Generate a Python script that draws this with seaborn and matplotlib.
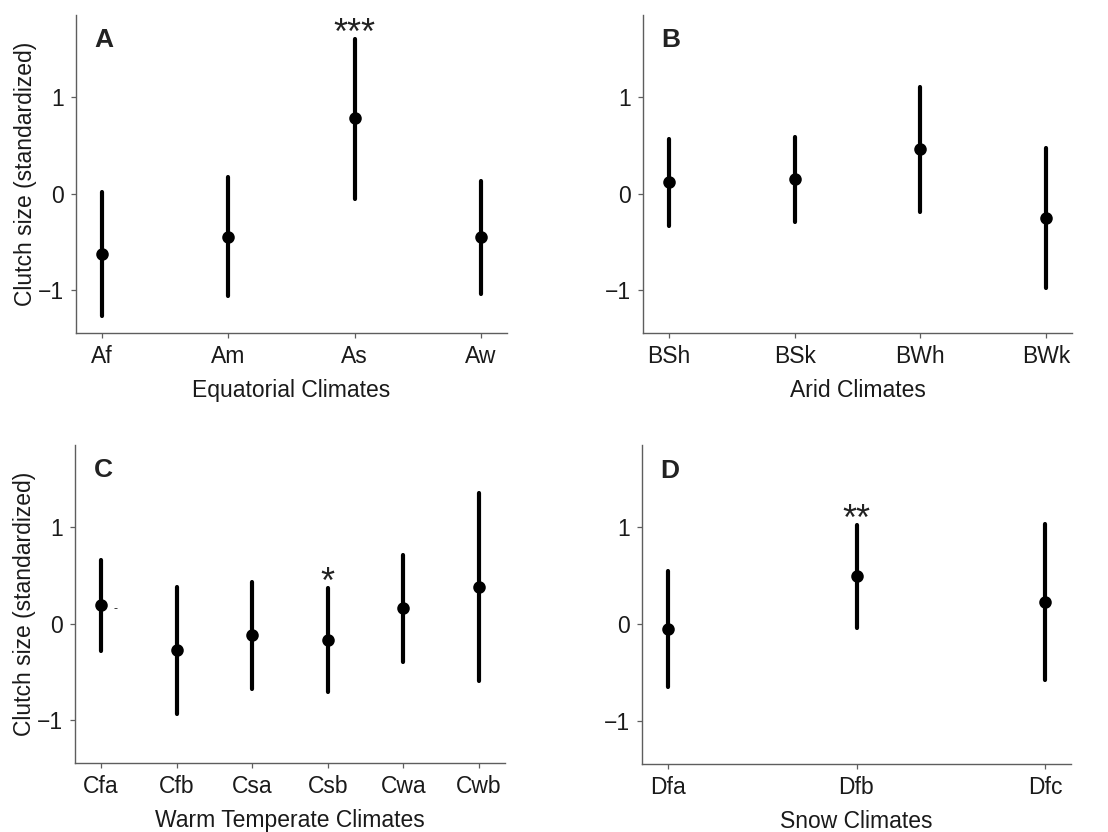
"""
Clutch size by Koppen climate zone.

Four point-range panels (estimate with 95% interval),
one panel per main climate group.
"""

import numpy as np
import pandas as pd
import seaborn as sns
import matplotlib.pyplot as plt


# ============================================================
# DATA (estimate, lower, upper)
# ============================================================

eq_labels = ["Af", "Am", "As", "Aw"]
eq_est = [-0.62, -0.45, 0.78, -0.45]
eq_low = [-1.26, -1.06, -0.05, -1.04]
eq_high = [0.02, 0.17, 1.60, 0.13]
eq_sig = ["", "", "***", ""]

arid_labels = ["BSh", "BSk", "BWh", "BWk"]
arid_est = [0.12, 0.15, 0.46, -0.25]
arid_low = [-0.33, -0.29, -0.19, -0.97]
arid_high = [0.57, 0.59, 1.11, 0.47]
arid_sig = ["", "", "", ""]

temp_labels = ["Cfa", "Cfb", "Csa", "Csb", "Cwa", "Cwb"]
temp_est = [0.19, -0.27, -0.12, -0.17, 0.16, 0.38]
temp_low = [-0.28, -0.93, -0.67, -0.71, -0.40, -0.59]
temp_high = [0.66, 0.38, 0.43, 0.37, 0.71, 1.35]
temp_sig = ["", "", "", "*", "", ""]
temp_marginal = ["-", "", "", "", "", ""]

snow_labels = ["Dfa", "Dfb", "Dfc"]
snow_est = [-0.05, 0.50, 0.23]
snow_low = [-0.65, -0.04, -0.57]
snow_high = [0.55, 1.02, 1.04]
snow_sig = ["", "**", ""]


# ============================================================
# STYLE
# ============================================================

sns.set_theme(style="ticks")
plt.rcParams["font.family"] = ["Liberation Sans", "DejaVu Sans"]

SPINE_COLOR = "#5e5e5e"
TEXT_COLOR = "#1a1a1a"
Y_LIMITS = (-1.44, 1.85)
PAD_PX = 26
FONT = 16.5


def long_frame(labels, est, low, high):
    # three rows per climate -> median = estimate, min/max = interval
    values = np.column_stack([low, est, high]).ravel()
    return pd.DataFrame({"climate": np.repeat(labels, 3), "value": values})


def draw_panel(ax, letter, xlabel, labels, est, low, high, sig, ylabel=True, marginal=None):
    df = long_frame(labels, est, low, high)
    sns.pointplot(
        data=df,
        x="climate",
        y="value",
        order=labels,
        estimator="median",
        errorbar=("pi", 100),
        color="black",
        linestyle="none",
        markersize=7,
        err_kws={"linewidth": 3},
        ax=ax,
    )

    # significance stars above the intervals
    for i, s in enumerate(sig):
        if s:
            ax.text(i, high[i] - 0.05, s, ha="center", va="baseline",
                    fontsize=26, color="#222222")
    if marginal:
        for i, s in enumerate(marginal):
            if s:
                ax.text(i + 0.19, est[i] - 0.04, s, ha="center", va="center",
                        fontsize=9, color="#222222")

    n = len(labels)
    width_px = ax.get_position().width * FIG_W
    pad = PAD_PX / width_px * (n - 1) / (1 - 2 * PAD_PX / width_px)
    ax.set_xlim(-pad, n - 1 + pad)
    ax.set_ylim(*Y_LIMITS)
    ax.set_yticks([-1, 0, 1])

    ax.set_xlabel(xlabel, fontsize=FONT, color=TEXT_COLOR, labelpad=8)
    ax.set_ylabel("Clutch size (standardized)" if ylabel else "",
                  fontsize=FONT, color=TEXT_COLOR, labelpad=1)

    ax.text(0.065, 0.92, letter, transform=ax.transAxes, ha="center",
            va="center", fontsize=19, fontweight="bold", color="#222222")

    sns.despine(ax=ax)
    for side in ["left", "bottom"]:
        ax.spines[side].set_color(SPINE_COLOR)
        ax.spines[side].set_linewidth(1.0)
    ax.tick_params(axis="both", length=3.5, width=0.9, color=SPINE_COLOR,
                   labelsize=FONT, labelcolor=TEXT_COLOR, pad=5)


# ============================================================
# FIGURE
# ============================================================

FIG_W, FIG_H = 1108, 832
fig = plt.figure(figsize=(FIG_W / 100, FIG_H / 100), dpi=100)

ax_a = fig.add_axes([76 / FIG_W, 1 - 333 / FIG_H, 431 / FIG_W, 318 / FIG_H])
ax_b = fig.add_axes([643 / FIG_W, 1 - 333 / FIG_H, 429 / FIG_W, 318 / FIG_H])
ax_c = fig.add_axes([75 / FIG_W, 1 - 763 / FIG_H, 430 / FIG_W, 318 / FIG_H])
ax_d = fig.add_axes([642 / FIG_W, 1 - 764 / FIG_H, 429 / FIG_W, 319 / FIG_H])

draw_panel(ax_a, "A", "Equatorial Climates", eq_labels, eq_est, eq_low, eq_high, eq_sig)
draw_panel(ax_b, "B", "Arid Climates", arid_labels, arid_est, arid_low, arid_high,
           arid_sig, ylabel=False)
draw_panel(ax_c, "C", "Warm Temperate Climates", temp_labels, temp_est, temp_low,
           temp_high, temp_sig, marginal=temp_marginal)
draw_panel(ax_d, "D", "Snow Climates", snow_labels, snow_est, snow_low, snow_high,
           snow_sig, ylabel=False)

fig.savefig("out.png", dpi=100, facecolor="white")
plt.close(fig)
